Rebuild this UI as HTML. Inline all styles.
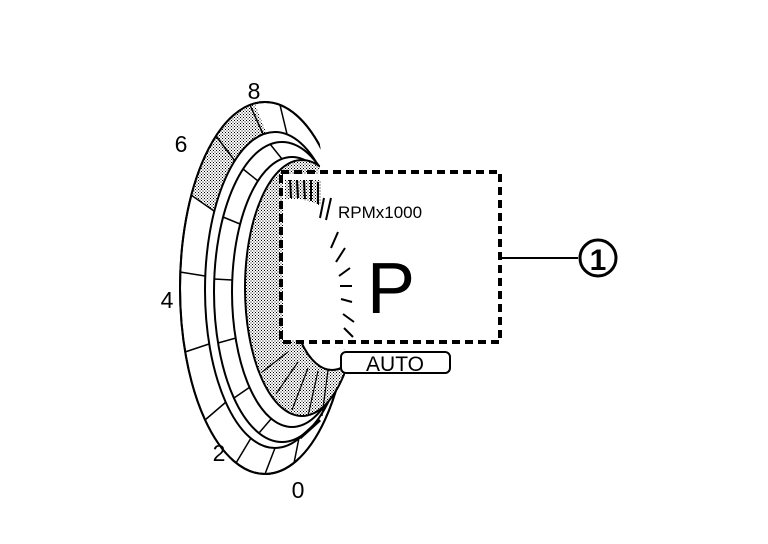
<!DOCTYPE html>
<html><head><style>body{margin:0;background:#fff}svg{display:block}</style></head><body>
<svg width="768" height="544" viewBox="0 0 768 544" xmlns="http://www.w3.org/2000/svg" font-family="Liberation Sans, sans-serif">
<defs>
<pattern id="dots" width="3" height="3" patternUnits="userSpaceOnUse"><rect width="3" height="3" fill="#fff"/><rect width="1" height="1" fill="#000"/><rect x="1.5" y="1.5" width="1" height="1" fill="#000"/></pattern>
<clipPath id="c1"><path d="M0 0 H300 L322 160 L292 250 L292 335 L345 350 L345 544 H0Z"/></clipPath>
</defs>
<g clip-path="url(#c1)" fill="none" stroke="#000" stroke-width="2">
<ellipse cx="265" cy="288" rx="85" ry="186" fill="#fff"/>
<path d="M191,195 A85 186 0 0 1 254.6,103.3 L266.5,133.1 A70 158 0 0 0 214,211 Z" fill="url(#dots)" stroke="none"/>
<ellipse cx="265" cy="288" rx="85" ry="186"/>
<ellipse cx="275" cy="290" rx="70" ry="158" fill="#fff"/>
<ellipse cx="282" cy="292" rx="68" ry="150" fill="#fff"/>
<ellipse cx="292" cy="292" rx="60" ry="135" fill="#fff"/>
<ellipse cx="302" cy="288" rx="57" ry="128" fill="url(#dots)"/>
<ellipse cx="332" cy="272" rx="44" ry="98" fill="#fff"/>
<g stroke-width="1.5">
<line x1="280" y1="105" x2="287" y2="134"/><line x1="250" y1="105" x2="263" y2="134"/>
<line x1="216" y1="136" x2="235" y2="161"/><line x1="191" y1="195" x2="214" y2="211"/>
<line x1="180" y1="272" x2="205" y2="276"/><line x1="185" y1="352" x2="209" y2="344"/>
<line x1="205" y1="420" x2="226" y2="402"/><line x1="236" y1="463" x2="251" y2="438"/>
<line x1="265" y1="474" x2="275" y2="448"/><line x1="294" y1="463" x2="299" y2="438"/>
<line x1="270" y1="144" x2="282" y2="159"/><line x1="243" y1="169" x2="258" y2="181"/>
<line x1="223" y1="217" x2="240" y2="224"/><line x1="214" y1="279" x2="232" y2="280"/>
<line x1="218" y1="343" x2="236" y2="338"/><line x1="234" y1="398" x2="250" y2="387"/>
<line x1="259" y1="433" x2="271" y2="419"/>
</g>
<g stroke-width="1.2">
<line x1="262" y1="372" x2="288" y2="352"/><line x1="276" y1="394" x2="298" y2="362"/>
<line x1="292" y1="410" x2="308" y2="368"/><line x1="308" y1="416" x2="318" y2="371"/>
<line x1="322" y1="416" x2="328" y2="370"/>
</g>
</g>
<rect x="283" y="174" width="216" height="166" fill="#fff"/>
<path d="M300 438 L320 420" stroke="#000" stroke-width="3"/>
<path d="M285 180 H321 V206 Q300 196 285 200 Z" fill="url(#dots)"/>
<g stroke="#000" stroke-width="2">
<line x1="290" y1="180" x2="291" y2="198"/><line x1="297" y1="180" x2="298" y2="198"/><line x1="304" y1="180" x2="305" y2="199"/><line x1="311" y1="180" x2="311" y2="201"/><line x1="318" y1="182" x2="318" y2="204"/>
<line x1="324" y1="198" x2="320" y2="218"/><line x1="331" y1="198" x2="326" y2="220"/>
<line x1="338" y1="232" x2="331" y2="248"/><line x1="345" y1="248" x2="336" y2="262"/><line x1="350" y1="268" x2="339" y2="276"/>
<line x1="352" y1="286" x2="340" y2="286"/><line x1="352" y1="302" x2="341" y2="299"/><line x1="354" y1="322" x2="343" y2="314"/><line x1="353" y1="337" x2="344" y2="328"/>
</g>
<rect x="281" y="172" width="219" height="170" fill="none" stroke="#000" stroke-width="4" stroke-dasharray="8 5"/>
<text x="338" y="218" font-size="17">RPMx1000</text>
<text x="367" y="313" font-size="72">P</text>
<rect x="341" y="352" width="109" height="21" rx="5" fill="#fff" stroke="#000" stroke-width="2"/>
<text x="395" y="371" font-size="21" text-anchor="middle">AUTO</text>
<line x1="500" y1="258" x2="578" y2="258" stroke="#000" stroke-width="2"/>
<circle cx="598" cy="258" r="18" fill="#fff" stroke="#000" stroke-width="3"/>
<text x="598" y="270" font-size="30" font-weight="bold" text-anchor="middle">1</text>
<g font-size="23" text-anchor="middle">
<text x="254" y="99">8</text><text x="181" y="152">6</text><text x="167" y="308">4</text><text x="219" y="461">2</text><text x="298" y="498">0</text>
</g>
</svg>
</body></html>
